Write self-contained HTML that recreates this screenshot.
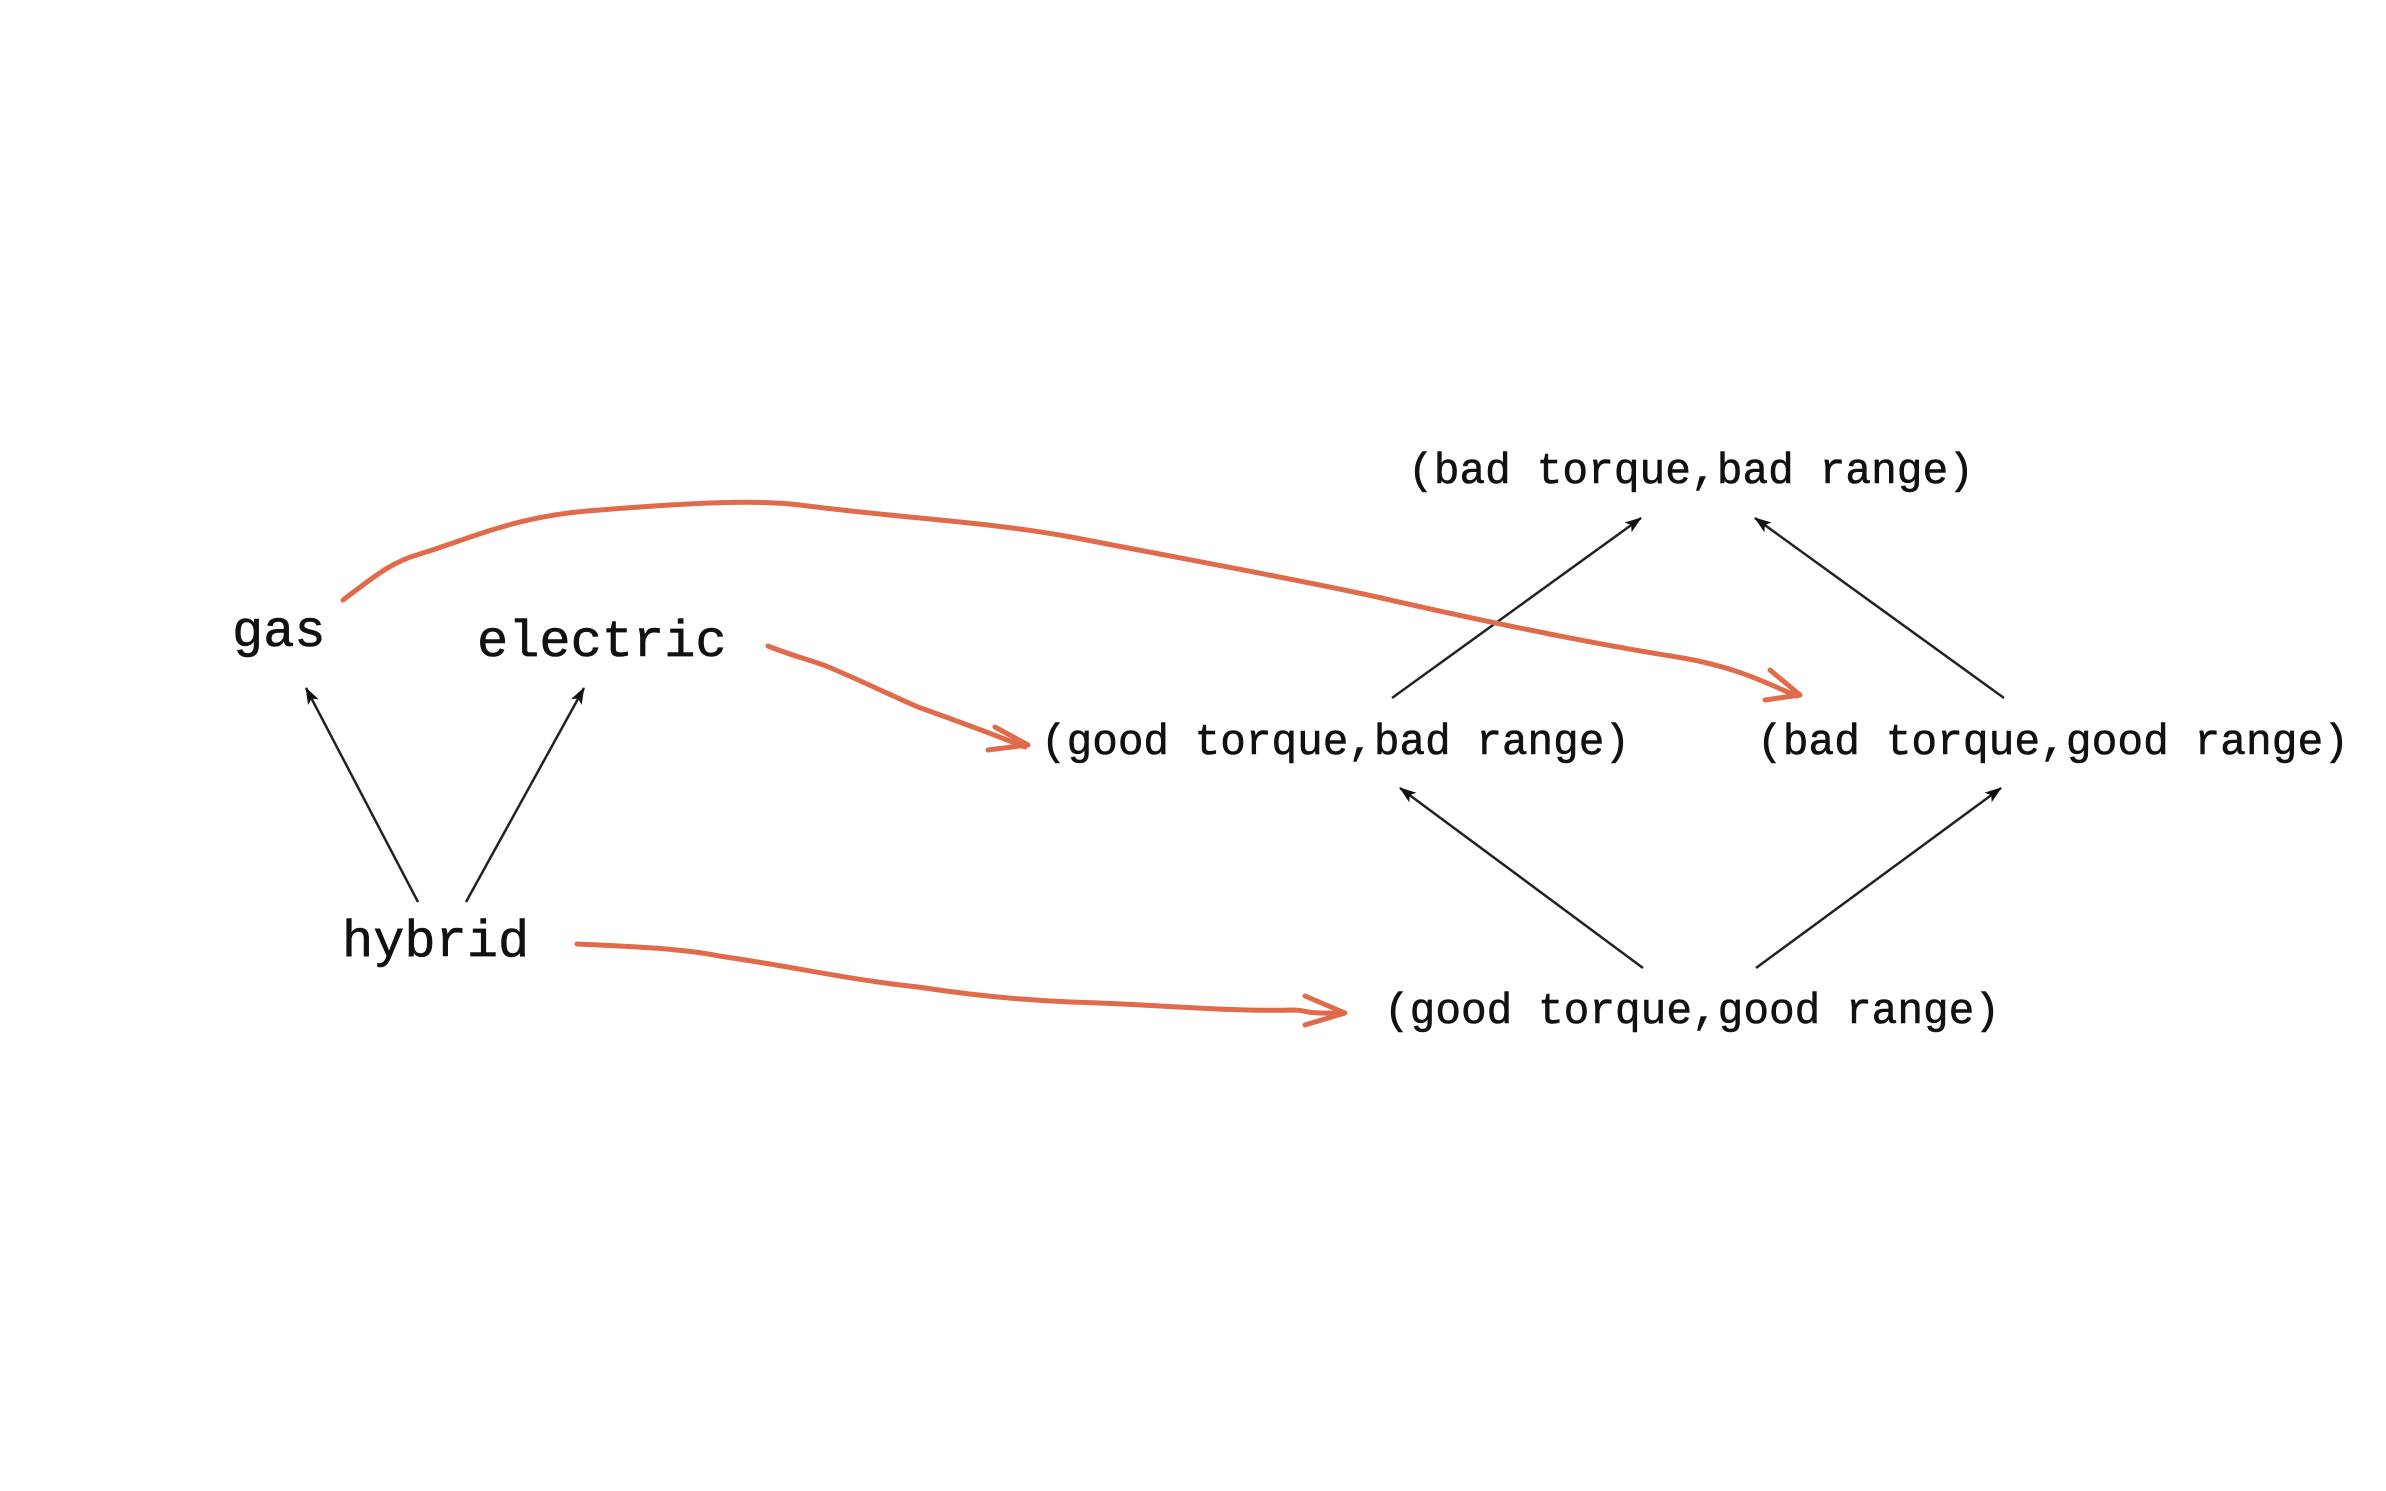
<!DOCTYPE html>
<html><head><style>
html,body{margin:0;padding:0;background:#fff;}
svg{display:block;}
text{font-family:"Liberation Mono",monospace;fill:#111;stroke:#111;stroke-width:0.6;}
</style></head><body>
<svg width="2386" height="1491" viewBox="0 0 2386 1491" xmlns="http://www.w3.org/2000/svg">
<defs>
<marker id="ah" markerWidth="18" markerHeight="14" refX="16" refY="7" orient="auto" markerUnits="userSpaceOnUse">
<path d="M0,1 L17,7 L0,13 L4,7 Z" fill="#111"/>
</marker>
</defs>
<g font-size="52">
<text x="232" y="646">gas</text>
<text x="477" y="656">electric</text>
<text x="342" y="956">hybrid</text>
</g>
<g font-size="44">
<text x="1408" y="483" textLength="566" lengthAdjust="spacingAndGlyphs">(bad torque,bad range)</text>
<text x="1041" y="754" textLength="589" lengthAdjust="spacingAndGlyphs">(good torque,bad range)</text>
<text x="1757" y="754" textLength="592" lengthAdjust="spacingAndGlyphs">(bad torque,good range)</text>
<text x="1384" y="1023" textLength="616" lengthAdjust="spacingAndGlyphs">(good torque,good range)</text>
</g>
<g stroke="#222" stroke-width="2.5" fill="none" marker-end="url(#ah)">
<line x1="418" y1="902" x2="306" y2="688"/>
<line x1="466" y1="902" x2="584" y2="688"/>
<line x1="1392" y1="698" x2="1641" y2="518"/>
<line x1="2004" y1="698" x2="1755" y2="518"/>
<line x1="1643" y1="968" x2="1400" y2="788"/>
<line x1="1756" y1="968" x2="2001" y2="788"/>
</g>
<g stroke="#e06a4a" stroke-width="5" fill="none" stroke-linecap="round" stroke-linejoin="round">
<path d="M343,600 C370,580 390,562 420,554 C480,535 520,515 600,510 C700,502 760,500 800,505 C900,518 990,522 1071,537 C1200,562 1300,580 1377,597 C1500,625 1600,645 1683,658 C1740,668 1770,685 1797,696"/>
<path d="M1770,670 L1800,695 L1765,700"/>
<path d="M768,646 C790,655 810,660 826,666 C860,680 890,695 918,707 C960,722 995,735 1025,747"/>
<path d="M995,727 L1028,745 L988,750"/>
<path d="M577,944 C620,946 680,948 719,956 C790,966 850,980 918,987 C970,995 1020,1000 1071,1002 C1150,1004 1230,1012 1293,1010 C1310,1010 1300,1014 1340,1013"/>
<path d="M1305,996 L1345,1013 L1305,1025"/>
</g>
</svg>
</body></html>
